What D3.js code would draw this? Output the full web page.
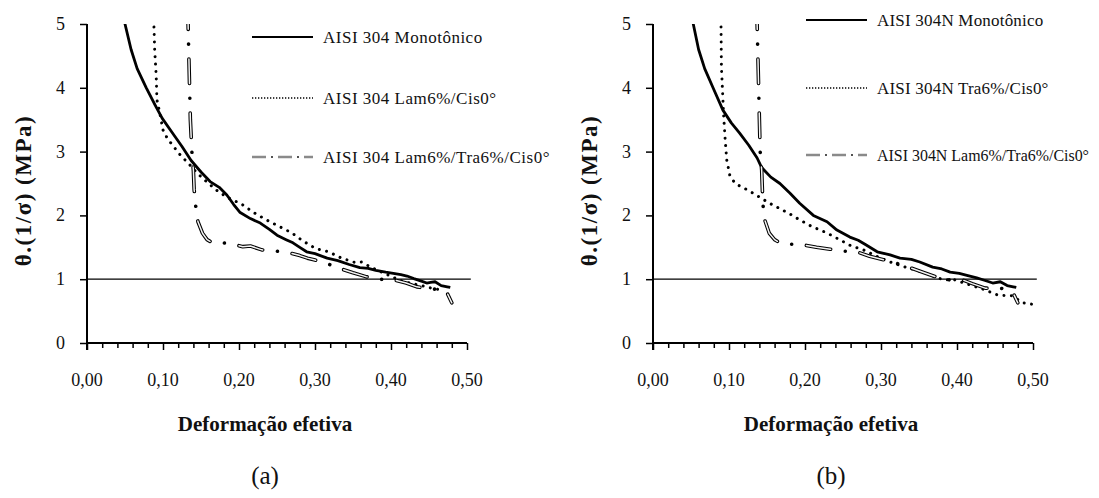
<!DOCTYPE html>
<html>
<head>
<meta charset="utf-8">
<script src="https://cdn.jsdelivr.net/npm/d3@7"></script>
<style>
  body { margin: 0; background: #fff; }
  svg { display: block; }
  text { font-family: "Liberation Serif", "Times New Roman", serif; fill: #111; }
</style>
</head>
<body>
<svg id="chart" width="1099" height="498"></svg>
<script>
// ---- Data: effective strain vs θ·(1/σ) (MPa) ----
const xTickValues = [0, 0.1, 0.2, 0.3, 0.4, 0.5];
const xTickLabels = ["0,00", "0,10", "0,20", "0,30", "0,40", "0,50"];
const yTickValues = [0, 1, 2, 3, 4, 5];
const yTickLabels = ["0", "1", "2", "3", "4", "5"];
const referenceLine = [[0, 1], [0.505, 1]];

// (a) AISI 304
const mono304 = [[0.046,5.3],[0.050,5.0],[0.058,4.6],[0.066,4.3],[0.078,4.0],[0.090,3.72],[0.099,3.52],[0.112,3.3],[0.125,3.08],[0.137,2.86],[0.150,2.68],[0.162,2.53],[0.174,2.44],[0.184,2.32],[0.193,2.17],[0.201,2.05],[0.215,1.95],[0.228,1.88],[0.240,1.78],[0.250,1.69],[0.262,1.62],[0.271,1.57],[0.280,1.50],[0.289,1.43],[0.300,1.40],[0.316,1.33],[0.330,1.29],[0.345,1.23],[0.359,1.18],[0.370,1.17],[0.380,1.14],[0.393,1.11],[0.403,1.09],[0.413,1.07],[0.421,1.05],[0.430,1.01],[0.440,0.97],[0.447,0.94],[0.452,0.95],[0.458,0.96],[0.466,0.90],[0.474,0.88],[0.478,0.87]];
const lamCis304 = [[0.087,5.3],[0.088,5.0],[0.089,4.6],[0.091,4.2],[0.092,3.81],[0.095,3.65],[0.100,3.34],[0.106,3.2],[0.114,3.08],[0.121,2.97],[0.129,2.87],[0.137,2.77],[0.145,2.66],[0.160,2.50],[0.172,2.38],[0.185,2.28],[0.203,2.18],[0.220,2.04],[0.236,1.93],[0.254,1.82],[0.269,1.73],[0.284,1.60],[0.301,1.48],[0.318,1.43],[0.335,1.33],[0.353,1.26],[0.361,1.27],[0.375,1.18],[0.390,1.10],[0.403,1.03],[0.412,0.98],[0.425,0.94],[0.440,0.90],[0.453,0.86],[0.462,0.84]];
const lamTraCis304 = [[0.132,5.3],[0.133,5.0],[0.134,4.5],[0.135,4.0],[0.136,3.5],[0.138,3.0],[0.140,2.7],[0.141,2.4],[0.143,2.15],[0.146,1.9],[0.152,1.72],[0.158,1.62],[0.165,1.57],[0.179,1.57],[0.195,1.54],[0.205,1.51],[0.215,1.52],[0.230,1.46],[0.249,1.44],[0.267,1.41],[0.280,1.37],[0.290,1.33],[0.300,1.30],[0.317,1.24],[0.335,1.16],[0.350,1.10],[0.367,1.04],[0.384,1.00],[0.403,0.99],[0.420,0.94],[0.434,0.88],[0.450,0.85],[0.465,0.84],[0.474,0.78],[0.480,0.63]];

// (b) AISI 304N
const mono304N = [[0.049,5.3],[0.053,5.0],[0.060,4.6],[0.068,4.3],[0.079,4.0],[0.092,3.65],[0.103,3.45],[0.114,3.29],[0.126,3.10],[0.137,2.90],[0.143,2.75],[0.155,2.60],[0.167,2.50],[0.180,2.35],[0.193,2.19],[0.211,2.00],[0.229,1.90],[0.242,1.77],[0.259,1.66],[0.270,1.61],[0.280,1.54],[0.295,1.43],[0.312,1.38],[0.325,1.33],[0.340,1.31],[0.351,1.27],[0.368,1.19],[0.380,1.16],[0.391,1.11],[0.403,1.09],[0.413,1.06],[0.426,1.02],[0.437,0.98],[0.447,0.94],[0.457,0.96],[0.466,0.90],[0.474,0.88],[0.478,0.87]];
const traCis304N = [[0.089,5.3],[0.0895,4.96],[0.090,4.33],[0.093,3.55],[0.095,3.18],[0.097,2.87],[0.101,2.63],[0.108,2.50],[0.121,2.42],[0.130,2.36],[0.152,2.20],[0.179,2.03],[0.193,1.93],[0.210,1.82],[0.228,1.73],[0.244,1.63],[0.261,1.52],[0.277,1.46],[0.294,1.36],[0.312,1.27],[0.329,1.20],[0.347,1.14],[0.364,1.07],[0.382,0.99],[0.397,0.99],[0.417,0.91],[0.435,0.84],[0.454,0.75],[0.472,0.74],[0.487,0.63],[0.503,0.60]];
const lamTraCis304N = [[0.137,5.3],[0.137,5.0],[0.138,4.5],[0.139,4.0],[0.140,3.5],[0.141,3.0],[0.143,2.71],[0.144,2.37],[0.145,2.13],[0.147,1.93],[0.153,1.72],[0.160,1.62],[0.167,1.57],[0.180,1.55],[0.197,1.54],[0.215,1.50],[0.233,1.47],[0.250,1.44],[0.268,1.43],[0.285,1.36],[0.305,1.30],[0.320,1.25],[0.336,1.19],[0.355,1.11],[0.374,1.03],[0.386,0.99],[0.407,0.99],[0.420,0.93],[0.437,0.86],[0.457,0.86],[0.468,0.83],[0.474,0.78],[0.480,0.63]];

const panels = [
  {
    left: 87, caption: "(a)", legendX: 252, legendY: [37, 98, 157], legendSpacing: 0.5,
    series: [
      { name: "AISI 304 Monotônico", data: mono304, style: "solid" },
      { name: "AISI 304 Lam6%/Cis0°", data: lamCis304, style: "dotted" },
      { name: "AISI 304 Lam6%/Tra6%/Cis0°", data: lamTraCis304, style: "dashdot" }
    ]
  },
  {
    left: 653, caption: "(b)", legendX: 806, legendY: [20, 88, 155], legendSpacing: 0.2,
    series: [
      { name: "AISI 304N Monotônico", data: mono304N, style: "solid" },
      { name: "AISI 304N Tra6%/Cis0°", data: traCis304N, style: "dotted" },
      { name: "AISI 304N Lam6%/Tra6%/Cis0°", data: lamTraCis304N, style: "dashdot" }
    ]
  }
];

const width = 1099;
const plotTop = 24, plotH = 319, plotW = 380;
const svg = d3.select("#chart");

const x = d3.scaleLinear().domain([0, 0.5]).range([0, plotW]);
const y = d3.scaleLinear().domain([0, 5]).range([plotH, 0]);
const line = d3.line().x(d => x(d[0])).y(d => y(d[1]));

svg.append("defs").append("clipPath").attr("id", "plotClip")
  .append("rect").attr("x", 0).attr("y", 0).attr("width", plotW + 12).attr("height", plotH);

function drawSeries(g, s) {
  if (s.style === "solid") {
    g.append("path").datum(s.data).attr("d", line)
      .attr("fill", "none").attr("stroke", "#000").attr("stroke-width", 2.8)
      .attr("stroke-linejoin", "round");
  } else if (s.style === "dotted") {
    g.append("path").datum(s.data).attr("d", line)
      .attr("fill", "none").attr("stroke", "#000").attr("stroke-width", 3)
      .attr("stroke-linecap", "round").attr("stroke-dasharray", "0.01,7.4");
  } else {
    // hollow long dashes separated by solid dots
    g.append("path").datum(s.data).attr("d", line)
      .attr("fill", "none").attr("stroke", "#000").attr("stroke-width", 3.6)
      .attr("stroke-linecap", "round").attr("stroke-linejoin", "round")
      .attr("stroke-dasharray", "24.5,14.8,0.01,14.8");
    g.append("path").datum(s.data).attr("d", line)
      .attr("fill", "none").attr("stroke", "#f4f4f4").attr("stroke-width", 1.5)
      .attr("stroke-linecap", "round").attr("stroke-linejoin", "round")
      .attr("stroke-dasharray", "24.5,29.61");
  }
}

function drawLegendSample(g, style, x0, x1, yy) {
  if (style === "solid") {
    g.append("line").attr("x1", x0).attr("x2", x1).attr("y1", yy).attr("y2", yy)
      .attr("stroke", "#000").attr("stroke-width", 2.2);
  } else if (style === "dotted") {
    g.append("line").attr("x1", x0).attr("x2", x1).attr("y1", yy).attr("y2", yy)
      .attr("stroke", "#000").attr("stroke-width", 1.3).attr("stroke-dasharray", "1.3,1.7");
  } else {
    g.append("line").attr("x1", x0).attr("x2", x1).attr("y1", yy).attr("y2", yy)
      .attr("stroke", "#8a8a8a").attr("stroke-width", 2.6).attr("stroke-dasharray", "14,12");
    g.append("line").attr("x1", x0).attr("x2", x1).attr("y1", yy).attr("y2", yy)
      .attr("stroke", "#000").attr("stroke-width", 1.8).attr("stroke-linecap", "round")
      .attr("stroke-dasharray", "0.01,25.99").attr("stroke-dashoffset", -20);
  }
}

panels.forEach(p => {
  const g = svg.append("g").attr("transform", `translate(${p.left},${plotTop})`);

  // y = 1 reference line
  g.append("path").datum(referenceLine).attr("d", line)
    .attr("fill", "none").attr("stroke", "#000").attr("stroke-width", 1.2);

  // curves
  const plot = g.append("g").attr("clip-path", "url(#plotClip)");
  p.series.forEach(s => drawSeries(plot, s));

  // x axis: minor ticks every 0.02, labelled every 0.10
  const xAxis = g.append("g").attr("transform", `translate(0,${plotH})`)
    .call(d3.axisBottom(x).tickValues(d3.range(0, 0.5001, 0.02)).tickSize(5).tickFormat(""));
  xAxis.select(".domain").attr("stroke-width", 2).attr("d", `M0,0H${plotW}`);
  xAxis.selectAll(".tick line").attr("stroke-width", 1.5)
    .attr("y2", d => (Math.abs(d * 10 - Math.round(d * 10)) < 1e-6 ? 7 : 5));
  g.append("g").selectAll("text").data(xTickValues).join("text")
    .attr("x", d => x(d)).attr("y", plotH + 43)
    .attr("text-anchor", "middle").attr("font-size", 18)
    .text((d, i) => xTickLabels[i]);

  // y axis
  const yAxis = g.append("g")
    .call(d3.axisLeft(y).tickValues(yTickValues).tickSize(7).tickFormat(""));
  yAxis.select(".domain").attr("stroke-width", 2).attr("d", `M0,0V${plotH + 7}`);
  yAxis.selectAll(".tick line").attr("stroke-width", 1.5);
  g.append("g").selectAll("text").data(yTickValues).join("text")
    .attr("x", -22).attr("y", d => y(d) + 6)
    .attr("text-anchor", "end").attr("font-size", 18)
    .text((d, i) => yTickLabels[i]);

  // axis titles
  g.append("text").attr("x", plotW / 2 - 12).attr("y", plotH + 88)
    .attr("text-anchor", "middle").attr("font-size", 21).attr("font-weight", "bold")
    .text("Deformação efetiva");
  g.append("text").attr("transform", `translate(-56,${plotH / 2 + 7}) rotate(-90)`)
    .attr("text-anchor", "middle").attr("font-size", 23).attr("font-weight", "bold")
    .attr("letter-spacing", 1.5)
    .text("θ.(1/σ) (MPa)");

  // panel caption
  g.append("text").attr("x", plotW / 2 - 12).attr("y", plotH + 141)
    .attr("text-anchor", "middle").attr("font-size", 25)
    .text(p.caption);

  // legend; entries that would run past the right edge are condensed to fit
  const lg = svg.append("g");
  p.series.forEach((s, i) => {
    const yy = p.legendY[i];
    const tx = p.legendX + 71;
    drawLegendSample(lg, s.style, p.legendX, p.legendX + 61, yy);
    const t = lg.append("text").attr("x", tx).attr("y", yy + 6)
      .attr("font-size", 17).attr("letter-spacing", p.legendSpacing)
      .text(s.name);
    const room = width - 10 - tx;
    if (t.node().getComputedTextLength() > room) {
      t.attr("letter-spacing", 0).attr("font-size", 16.5)
        .attr("textLength", room).attr("lengthAdjust", "spacingAndGlyphs");
    }
  });
});
</script>
</body>
</html>
